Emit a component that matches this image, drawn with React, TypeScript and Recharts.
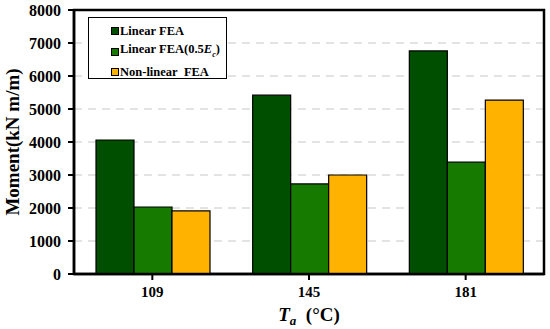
import React from 'react';
import {
  BarChart,
  Bar,
  XAxis,
  YAxis,
  CartesianGrid,
  Legend,
  Label,
  ReferenceArea,
} from 'recharts';

const categories = ['109', '145', '181'];
const linearFea = [4060, 5420, 6760];
const linearFeaHalfEc = [2030, 2730, 3390];
const nonLinearFea = [1910, 3000, 5270];
const yTicks = [0, 1000, 2000, 3000, 4000, 5000, 6000, 7000, 8000];

const data = categories.map((c, i) => ({
  cat: c,
  linear: linearFea[i],
  half: linearFeaHalfEc[i],
  nonlinear: nonLinearFea[i],
}));

const FONT = 'Liberation Serif, Times New Roman, serif';

const legendItems = [
  { color: '#004f00', label: <>Linear FEA</> },
  {
    color: '#167a00',
    label: (
      <>
        Linear FEA(0.5<i>E</i>
        <sub style={{ fontSize: 8 }}>
          <i>c</i>
        </sub>
        )
      </>
    ),
  },
  { color: '#ffb300', label: <>Non-linear&nbsp; FEA</> },
];

function LegendBox() {
  return (
    <div
      style={{
        border: '1.5px solid #000',
        background: '#fff',
        width: 139,
        height: 62,
        boxSizing: 'border-box',
        padding: '3px 0 0 22px',
        fontFamily: FONT,
        fontWeight: 'bold',
        fontSize: 12.5,
        color: '#000',
        textAlign: 'left',
      }}
    >
      {legendItems.map((it, i) => (
        <div key={i} style={{ display: 'flex', alignItems: 'center', height: 20.5, lineHeight: '12px', whiteSpace: 'nowrap' }}>
          <span
            style={{
              display: 'inline-block',
              width: 6,
              height: 6,
              background: it.color,
              border: '1px solid #000',
              marginRight: 1,
            }}
          />
          <span>{it.label}</span>
        </div>
      ))}
    </div>
  );
}

function XLabel({ viewBox }: any) {
  const cx = viewBox.x + viewBox.width / 2;
  return (
    <text
      x={cx}
      y={321}
      textAnchor="middle"
      fontFamily={FONT}
      fontWeight="bold"
      fontSize={19}
      fill="#000"
    >
      <tspan fontStyle="italic">T</tspan>
      <tspan fontStyle="italic" fontSize={13} dy={4}>
        a
      </tspan>
      <tspan dy={-4}>{'\u00a0 (\u00b0C)'}</tspan>
    </text>
  );
}

export default function App() {
  const xTickStyle = { fontFamily: FONT, fontWeight: 'bold', fontSize: 15, fill: '#000' };
  const yTickStyle = { fontFamily: FONT, fontWeight: 'bold', fontSize: 16, fill: '#000' };
  return (
    <div style={{ position: 'absolute', left: 0, top: 0, width: 550, height: 329, background: '#fff' }}>
      <BarChart
        width={550}
        height={329}
        data={data}
        margin={{ top: 10, right: 6, bottom: 0, left: 0 }}
        barGap={0}
        barCategoryGap={22}
      >
        <CartesianGrid
          vertical={false}
          stroke="#c8c8c8"
          strokeDasharray="8 6"
          strokeWidth={1.2}
        />
        <XAxis
          dataKey="cat"
          height={55}
          axisLine={{ stroke: '#000', strokeWidth: 2.5 }}
          tickLine={{ stroke: '#000', strokeWidth: 2 }}
          tickSize={6}
          tickMargin={6}
          tick={xTickStyle}
        >
          <Label content={<XLabel />} />
        </XAxis>
        <YAxis
          width={74}
          domain={[0, 8000]}
          ticks={yTicks}
          interval={0}
          axisLine={{ stroke: '#000', strokeWidth: 2.5 }}
          tickLine={{ stroke: '#000', strokeWidth: 2 }}
          tickSize={6}
          tickMargin={7}
          tick={yTickStyle}
        >
          <Label
            value="Moment(kN m/m)"
            angle={-90}
            position="insideLeft"
            offset={0}
            dx={12}
            style={{ fontFamily: FONT, fontWeight: 'bold', fontSize: 19, fill: '#000', textAnchor: 'middle' }}
          />
        </YAxis>
        <ReferenceArea
          y1={0}
          y2={8000}
          fill="none"
          stroke="#000"
          strokeWidth={2.5}
          ifOverflow="visible"
        />
        <Legend
          content={<LegendBox />}
          layout="horizontal"
          verticalAlign="middle"
          align="center"
          wrapperStyle={{ position: 'absolute', left: 88, top: 17, width: 'auto', height: 'auto' }}
        />
        <Bar dataKey="linear" fill="#004f00" stroke="#000" strokeWidth={1.2} isAnimationActive={false} />
        <Bar dataKey="half" fill="#167a00" stroke="#000" strokeWidth={1.2} isAnimationActive={false} />
        <Bar dataKey="nonlinear" fill="#ffb300" stroke="#000" strokeWidth={1.2} isAnimationActive={false} />
      </BarChart>
    </div>
  );
}
